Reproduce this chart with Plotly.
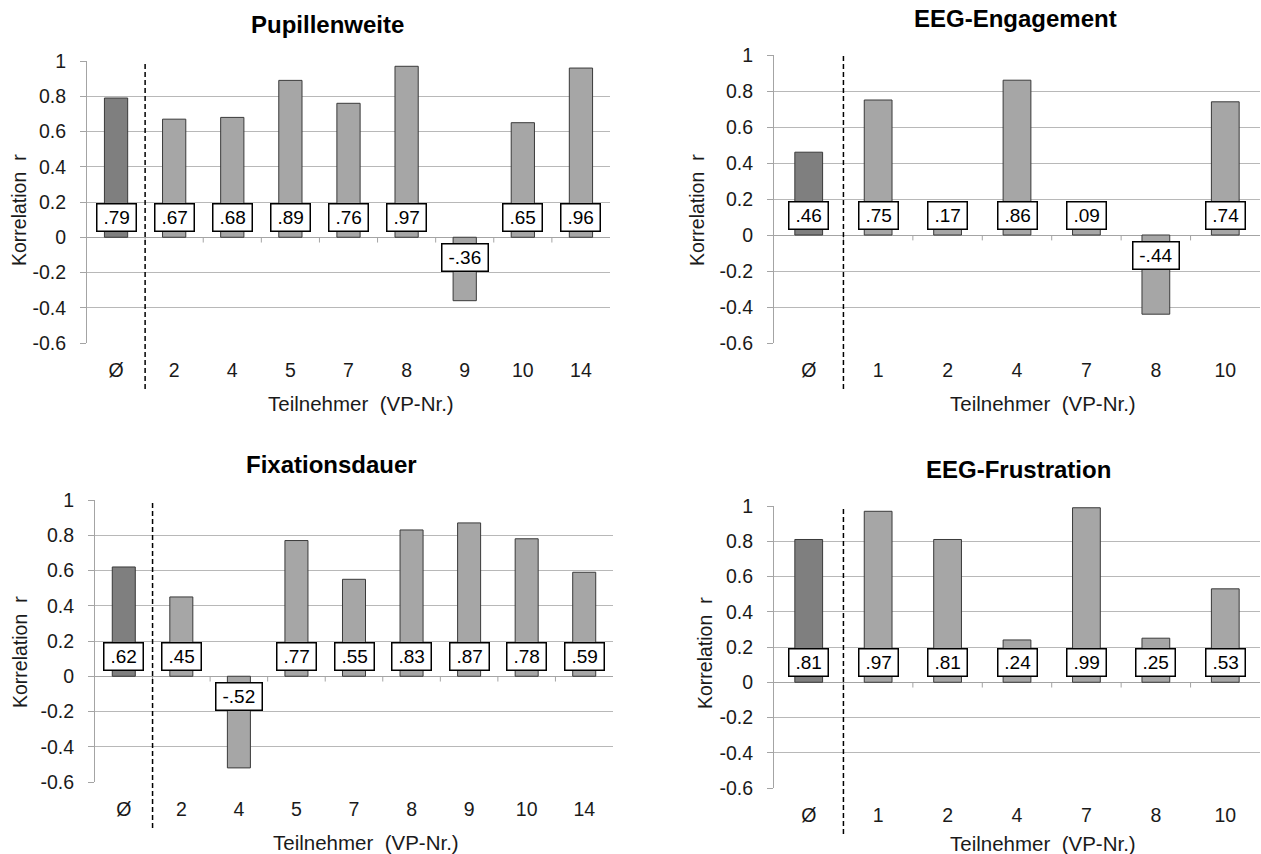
import plotly.graph_objects as go

# --- data -------------------------------------------------------------
pupil_cats = ["Ø", "2", "4", "5", "7", "8", "9", "10", "14"]
pupil_vals = [0.79, 0.67, 0.68, 0.89, 0.76, 0.97, -0.36, 0.65, 0.96]

engage_cats = ["Ø", "1", "2", "4", "7", "8", "10"]
engage_vals = [0.46, 0.75, 0.17, 0.86, 0.09, -0.44, 0.74]

fix_cats = ["Ø", "2", "4", "5", "7", "8", "9", "10", "14"]
fix_vals = [0.62, 0.45, -0.52, 0.77, 0.55, 0.83, 0.87, 0.78, 0.59]

frust_cats = ["Ø", "1", "2", "4", "7", "8", "10"]
frust_vals = [0.81, 0.97, 0.81, 0.24, 0.99, 0.25, 0.53]

y_ticks = [-0.6, -0.4, -0.2, 0, 0.2, 0.4, 0.6, 0.8, 1]
y_ticktext = ["-0.6", "-0.4", "-0.2", "0", "0.2", "0.4", "0.6", "0.8", "1"]

W, H = 1261, 854
FONT = "Arial, Liberation Sans, sans-serif"
MEAN_COLOR = "#7f7f7f"
BAR_COLOR = "#a6a6a6"
GRID = "#b8b8b8"
AXIS = "#a4a4a4"
LABEL_SIZE = 19

# Arial advance widths (em) for the characters used in the value labels
CHAR_W = {".": 0.278, "-": 0.333}


def text_width(s, size):
    return sum(CHAR_W.get(ch, 0.556) for ch in s) * size


def px_x(p):
    return p / W


def px_y(p):
    return 1 - p / H


# per panel: plot box (left, right, top, bottom) in px and text anchor points
panels = [
    dict(title="Pupillenweite", cats=pupil_cats, vals=pupil_vals,
         box=(87, 610, 61, 343), tpos=(327, 24), ytpos=(19, 210), xtpos=(361, 403)),
    dict(title="EEG-Engagement", cats=engage_cats, vals=engage_vals,
         box=(774, 1260, 55, 343), tpos=(1015, 18), ytpos=(697, 210), xtpos=(1043, 403)),
    dict(title="Fixationsdauer", cats=fix_cats, vals=fix_vals,
         box=(95, 613, 500, 782), tpos=(331, 464), ytpos=(20, 652), xtpos=(366, 842)),
    dict(title="EEG-Frustration", cats=frust_cats, vals=frust_vals,
         box=(774, 1260, 506, 788), tpos=(1018, 469), ytpos=(705, 653), xtpos=(1043, 843)),
]

fig = go.Figure()
annotations = []
shapes = []
layout = {}

for i, p in enumerate(panels, start=1):
    xa = "x" if i == 1 else f"x{i}"
    ya = "y" if i == 1 else f"y{i}"
    xkey = "xaxis" if i == 1 else f"xaxis{i}"
    ykey = "yaxis" if i == 1 else f"yaxis{i}"
    left, right, top, bottom = p["box"]
    n = len(p["cats"])
    idx = list(range(n))

    colors = [MEAN_COLOR] + [BAR_COLOR] * (n - 1)
    fig.add_trace(go.Bar(
        x=idx, y=p["vals"], xaxis=xa, yaxis=ya,
        marker=dict(color=colors, line=dict(color="#3a3a3a", width=1)),
        width=0.4, showlegend=False, hoverinfo="skip",
    ))

    layout[xkey] = dict(
        domain=[px_x(left), px_x(right)], anchor=ya, automargin=False,
        range=[-0.5, n - 0.5], tickvals=idx, ticktext=p["cats"],
        showgrid=False, zeroline=False, showline=False,
        ticks="", ticklabelstandoff=13,
        tickfont=dict(size=19.5, color="#1a1a1a", family=FONT),
        fixedrange=True,
    )
    layout[ykey] = dict(
        domain=[px_y(bottom), px_y(top)], anchor=xa, automargin=False,
        range=[-0.6, 1.0], tickvals=y_ticks, ticktext=y_ticktext,
        showgrid=True, gridcolor=GRID, gridwidth=1,
        zeroline=True, zerolinecolor=AXIS, zerolinewidth=1,
        showline=True, linecolor=AXIS, linewidth=1,
        ticks="outside", ticklen=6, tickcolor=AXIS,
        ticklabelstandoff=10,
        tickfont=dict(size=19.5, color="#1a1a1a", family=FONT),
        fixedrange=True,
    )

    # value labels in boxes at the bar base
    for k, v in zip(idx, p["vals"]):
        txt = f"{v:.2f}".replace("0.", ".")
        annotations.append(dict(
            x=k, y=0, xref=xa, yref=ya, text=txt, showarrow=False,
            xanchor="center",
            yanchor="bottom" if v >= 0 else "top",
            yshift=5 if v >= 0 else -6,
            width=text_width(txt, LABEL_SIZE) + 8, height=22,
            font=dict(size=LABEL_SIZE, color="#000000", family=FONT),
            bgcolor="#ffffff", bordercolor="#000000", borderwidth=1.5, borderpad=2,
        ))

    # category boundary ticks on the zero line
    for k in range(1, n):
        shapes.append(dict(
            type="line", xref=xa, yref=ya, x0=k - 0.5, x1=k - 0.5,
            y0=0, y1=-0.03, line=dict(color=AXIS, width=1),
        ))

    # dashed separator between the mean and the individual participants
    shapes.append(dict(
        type="line", xref=xa, yref="paper", x0=0.5, x1=0.5,
        y0=px_y(bottom + 46), y1=px_y(top),
        line=dict(color="#000000", width=1.5, dash="5px,3px"),
    ))

    # panel title
    annotations.append(dict(
        x=px_x(p["tpos"][0]), y=px_y(p["tpos"][1]), xref="paper", yref="paper",
        text=f"<b>{p['title']}</b>", showarrow=False,
        xanchor="center", yanchor="middle",
        font=dict(size=24, color="#000000", family=FONT),
    ))
    # y-axis title
    annotations.append(dict(
        x=px_x(p["ytpos"][0]), y=px_y(p["ytpos"][1]), xref="paper", yref="paper",
        text="Korrelation  r", showarrow=False, textangle=-90,
        xanchor="center", yanchor="middle",
        font=dict(size=19.5, color="#1a1a1a", family=FONT),
    ))
    # x-axis title
    annotations.append(dict(
        x=px_x(p["xtpos"][0]), y=px_y(p["xtpos"][1]), xref="paper", yref="paper",
        text="Teilnehmer  (VP-Nr.)", showarrow=False,
        xanchor="center", yanchor="middle",
        font=dict(size=20.5, color="#1a1a1a", family=FONT),
    ))

fig.update_layout(
    width=W, height=H,
    margin=dict(l=0, r=0, t=0, b=0, autoexpand=False),
    paper_bgcolor="#ffffff", plot_bgcolor="#ffffff",
    font=dict(family=FONT),
    annotations=annotations, shapes=shapes,
    **layout,
)

fig.write_html("out.html", config={"displayModeBar": False})
